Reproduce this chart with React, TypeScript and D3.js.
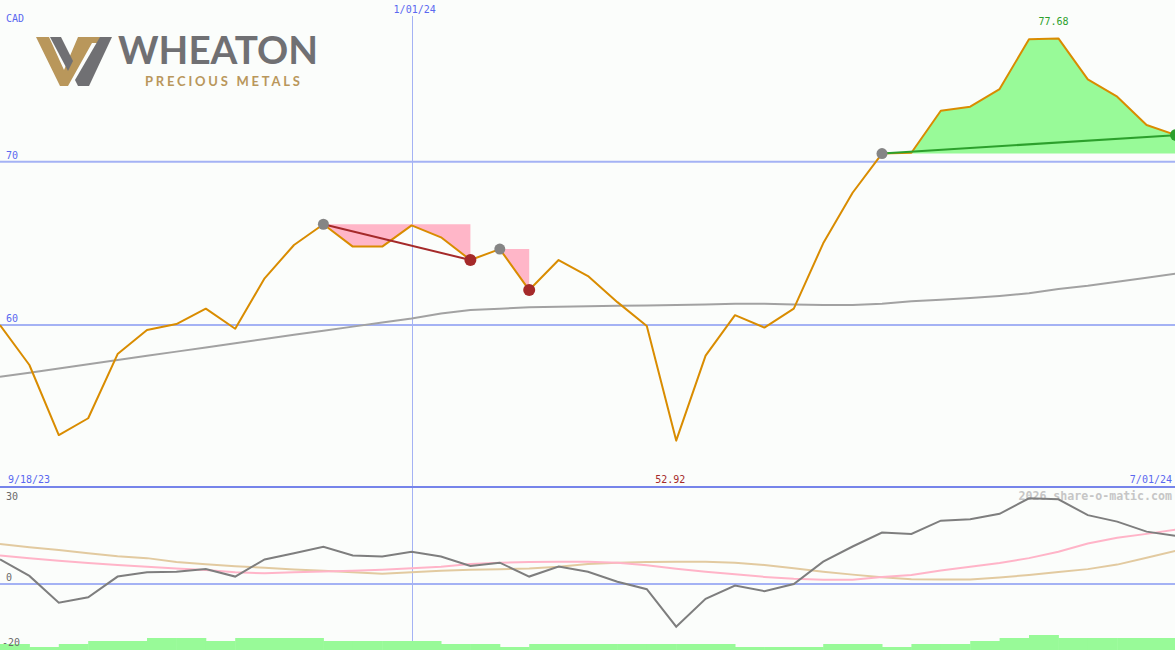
import React from 'react';
import * as d3 from 'd3';

// ---------- DATA ----------
const dates = [
  '2023-09-25','2023-10-02','2023-10-09','2023-10-16','2023-10-23','2023-10-30','2023-11-06','2023-11-13','2023-11-20','2023-11-27',
  '2023-12-04','2023-12-11','2023-12-18','2023-12-25','2024-01-01','2024-01-08','2024-01-15','2024-01-22','2024-01-29','2024-02-05',
  '2024-02-12','2024-02-19','2024-02-26','2024-03-04','2024-03-11','2024-03-18','2024-03-25','2024-04-01','2024-04-08','2024-04-15',
  '2024-04-22','2024-04-29','2024-05-06','2024-05-13','2024-05-20','2024-05-27','2024-06-03','2024-06-10','2024-06-17','2024-06-24',
  '2024-07-01'
];
const price = [
  60.0, 57.55, 53.26, 54.29, 58.22, 59.69, 60.06, 61.0, 59.77, 62.86,
  64.9, 66.17, 64.8, 64.8, 66.1, 65.37, 63.98, 64.65, 62.14, 63.98,
  63.0, 61.4, 59.94, 52.92, 58.12, 60.6, 59.84, 61.0, 65.0, 68.1,
  70.5, 70.55, 73.12, 73.37, 74.45, 77.5, 77.55, 75.04, 73.98, 72.25,
  71.63
];
const movingAvg = [
  56.83, 57.08, 57.34, 57.6, 57.86, 58.11, 58.37, 58.62, 58.88, 59.14,
  59.4, 59.65, 59.9, 60.15, 60.4, 60.7, 60.92, 61.0, 61.08, 61.12,
  61.15, 61.18, 61.2, 61.22, 61.25, 61.3, 61.3, 61.25, 61.22, 61.23,
  61.3, 61.45, 61.55, 61.65, 61.78, 61.95, 62.2, 62.4, 62.65, 62.9,
  63.15
];
const oscillator = [
  7.6, 2.5, -5.8, -4.1, 2.3, 3.6, 3.8, 4.6, 2.3, 7.6,
  9.5, 11.5, 8.8, 8.5, 10.0, 8.5, 5.6, 6.6, 2.3, 5.4,
  3.8, 0.7, -1.6, -13.2, -4.6, -0.5, -2.2, 0.0, 6.9, 11.6,
  15.9, 15.5, 19.6, 20.0, 21.7, 26.5, 26.2, 21.3, 19.3, 16.2,
  14.9
];
const oscSignal = [
  8.8, 8.0, 7.2, 6.5, 5.9, 5.3, 4.8, 4.3, 3.6, 3.3,
  3.6, 3.9, 4.1, 4.4, 4.9, 5.3, 6.2, 6.6, 6.8, 6.9,
  6.9, 6.6, 5.8, 4.7, 3.8, 3.0, 2.2, 1.6, 1.3, 1.3,
  2.2, 2.8, 4.2, 5.3, 6.5, 8.0, 10.0, 12.5, 14.3, 15.5,
  16.8
];
const oscSlow = [
  12.4, 11.4, 10.5, 9.5, 8.6, 8.0, 6.8, 6.1, 5.5, 5.0,
  4.5, 4.1, 3.6, 3.2, 3.6, 4.1, 4.4, 4.6, 4.8, 5.3,
  6.2, 6.6, 6.8, 6.9, 6.9, 6.6, 5.9, 4.9, 3.8, 2.9,
  2.1, 1.5, 1.4, 1.4, 2.0, 2.8, 3.7, 4.6, 6.0, 8.1,
  10.3
];
const volume = [
  2, 1, 2, 3, 3, 4, 4, 3, 4, 4,
  4, 3, 3, 3, 3, 2, 2, 1, 2, 2,
  2, 2, 2, 2, 2, 1, 1, 1, 2, 2,
  1, 2, 2, 3, 4, 5, 4, 4, 4, 4
];
const priceTicks = [70, 60];
const oscTicks = [30, 0, -20];
const markerDates = ['2024-01-01'];
const markerLabels = ['1/01/24'];
const startLabel = '9/18/23';
const endLabel = '7/01/24';
const currency = 'CAD';
const highValue = 77.68;
const lowValue = 52.92;
const downSwings = [
  { from: 11, to: 16, line: true },
  { from: 17, to: 18, line: false },
];
const upSwing = { from: 30, to: 40 };
const watermark = '2026 share-o-matic.com';

// ---------- CHART ----------
const W = 1175;
const H = 650;
const MONO = '"DejaVu Sans Mono", "Liberation Mono", monospace';
const BLUE_TXT = '#5a68f0';
const GRID = '#a4b2f4';

export default function App() {
  const parse = d3.utcParse('%Y-%m-%d');
  const dts = dates.map((d) => parse(d) as Date);
  const x = d3.scaleUtc().domain([dts[0], dts[dts.length - 1]]).range([0, 1176]);
  const y = d3.scaleLinear().domain([60, 70]).range([325, 161.7]);
  const yo = d3.scaleLinear().domain([0, 30]).range([584, 487]);
  const yv = d3.scaleLinear().domain([0, 5]).range([650, 635]);

  const idx = d3.range(dts.length);
  const lineOf = (vals: number[], sc: d3.ScaleLinear<number, number>) =>
    d3.line<number>().x((i) => x(dts[i])).y((i) => sc(vals[i]))(idx) || '';

  const maxI = d3.maxIndex(price);
  const minI = d3.minIndex(price);

  const pinkAreas = downSwings.map((s) => {
    const level = price[s.from];
    const ids = d3.range(s.from, s.to + 1);
    return d3.area<number>().x((i) => x(dts[i])).y0(y(level)).y1((i) => y(price[i]))(ids) || '';
  });
  const upIds = d3.range(upSwing.from, upSwing.to + 1);
  const greenArea =
    d3.area<number>().x((i) => x(dts[i])).y0(y(price[upSwing.from])).y1((i) => y(price[i]))(upIds) || '';

  // logo
  const logo = (
    <g>
      <path d="M36,37 L49,37 L64,70 L78,37 L101,37 L97,43 L92,43 L68,86 L60,86 Z" fill="#b9975b" />
      <path d="M50,37 L61,37 L73,61 L68,71 Z" fill="#707073" />
      <path d="M100,37 L112,37 L89,86 L78,86 L75,80 Z" fill="#707073" />
      <text x={118} y={64} fontFamily="Lato, 'Open Sans', sans-serif" fontWeight={700} fontSize={39}
        fill="#707073" textLength={200} lengthAdjust="spacingAndGlyphs">WHEATON</text>
      <text x={145} y={86} fontFamily="Lato, 'Open Sans', sans-serif" fontWeight={700} fontSize={13}
        fill="#b9975b" textLength={155} lengthAdjust="spacing">PRECIOUS METALS</text>
    </g>
  );

  return (
    <svg width={W} height={H} style={{ position: 'absolute', left: 0, top: 0, display: 'block' }}>
      <rect x={0} y={0} width={W} height={H} fill="#fbfdfb" />

      {/* grid */}
      {priceTicks.map((t) => (
        <line key={'g' + t} x1={0} x2={W} y1={y(t)} y2={y(t)} stroke={GRID} strokeWidth={2} />
      ))}
      {markerDates.map((d) => {
        const xx = Math.round(x(parse(d) as Date)) + 0.5;
        return <line key={d} x1={xx} x2={xx} y1={16} y2={H} stroke={GRID} strokeWidth={1} />;
      })}

      {/* swing shading */}
      {pinkAreas.map((p, k) => (
        <path key={'pa' + k} d={p} fill="#ffb6c8" />
      ))}
      <path d={greenArea} fill="#98fa98" />

      {/* moving average and price */}
      <path d={lineOf(movingAvg, y)} fill="none" stroke="#a2a2a2" strokeWidth={2} />
      <path d={lineOf(price, y)} fill="none" stroke="#d98c00" strokeWidth={2} strokeLinejoin="round" />

      {downSwings.filter((s) => s.line).map((s, k) => (
        <line key={'dl' + k} x1={x(dts[s.from])} y1={y(price[s.from])} x2={x(dts[s.to])} y2={y(price[s.to])}
          stroke="#a52a2a" strokeWidth={2} />
      ))}
      <line x1={x(dts[upSwing.from])} y1={y(price[upSwing.from])} x2={x(dts[upSwing.to])} y2={y(price[upSwing.to])}
        stroke="#2ca02c" strokeWidth={2} />

      {downSwings.map((s, k) => (
        <g key={'dd' + k}>
          <circle cx={x(dts[s.from])} cy={y(price[s.from])} r={5.5} fill="#858585" />
          <circle cx={x(dts[s.to])} cy={y(price[s.to])} r={6} fill="#a52a2a" />
        </g>
      ))}
      <circle cx={x(dts[upSwing.from])} cy={y(price[upSwing.from])} r={5.5} fill="#858585" />
      <circle cx={x(dts[upSwing.to])} cy={y(price[upSwing.to])} r={6} fill="#2ca02c" />

      {/* price panel labels */}
      {logo}
      <text x={6} y={22} fontFamily={MONO} fontSize={10} fill={BLUE_TXT}>{currency}</text>
      {priceTicks.map((t) => (
        <text key={'pt' + t} x={6} y={y(t) - 3} fontFamily={MONO} fontSize={10} fill={BLUE_TXT}>{t}</text>
      ))}
      {markerDates.map((d, k) => (
        <text key={'ml' + k} x={x(parse(d) as Date) - 18} y={13} fontFamily={MONO} fontSize={10} fill={BLUE_TXT}>
          {markerLabels[k]}
        </text>
      ))}
      <text x={x(dts[maxI]) - 20} y={25} fontFamily={MONO} fontSize={10} fill="#2ca02c">{highValue.toFixed(2)}</text>
      <text x={x(dts[minI]) - 21} y={483} fontFamily={MONO} fontSize={10} fill="#a52a2a">{lowValue.toFixed(2)}</text>
      <text x={8} y={483} fontFamily={MONO} fontSize={10} fill={BLUE_TXT}>{startLabel}</text>
      <text x={1172} y={483} textAnchor="end" fontFamily={MONO} fontSize={10} fill={BLUE_TXT}>{endLabel}</text>

      {/* lower panel */}
      <line x1={0} x2={W} y1={487} y2={487} stroke="#7684ea" strokeWidth={2} />
      <line x1={0} x2={W} y1={yo(0)} y2={yo(0)} stroke={GRID} strokeWidth={2} />
      {volume.map((v, i) => (
        <rect key={'v' + i} x={x(dts[i])} y={yv(v)} width={x(dts[i + 1]) - x(dts[i]) + 0.5} height={H - yv(v)}
          fill="#98fa98" />
      ))}
      <text x={1172} y={500} textAnchor="end" fontFamily={MONO} fontSize={11.6} fontWeight={700} fill="#c6c6c6">
        {watermark}
      </text>
      <path d={lineOf(oscSlow, yo)} fill="none" stroke="#e2caa0" strokeWidth={2} />
      <path d={lineOf(oscSignal, yo)} fill="none" stroke="#ffb4c8" strokeWidth={2} />
      <path d={lineOf(oscillator, yo)} fill="none" stroke="#7e7e7e" strokeWidth={2} />
      {oscTicks.map((t) => {
        const yy = t === oscTicks[0] ? 500 : yo(t) - 3;
        return (
          <text key={'ot' + t} x={t < 0 ? 2 : 6} y={t < 0 ? 646 : yy} fontFamily={MONO} fontSize={10} fill="#6a6a6a">
            {t}
          </text>
        );
      })}
    </svg>
  );
}
